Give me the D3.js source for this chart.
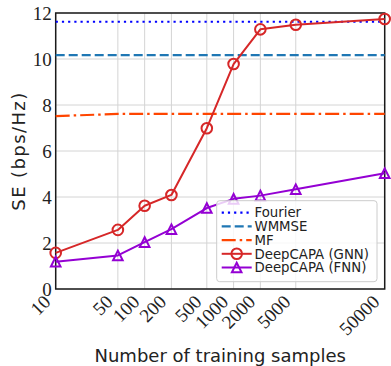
<!DOCTYPE html>
<html>
<head>
<meta charset="utf-8">
<script src="https://cdn.jsdelivr.net/npm/d3@7"></script>
<style>
  html, body { margin: 0; padding: 0; background: #fff; }
  svg { display: block; }
</style>
</head>
<body>
<script>
// Number of training samples (x positions, log scale)
const samples = [10, 50, 100, 200, 500, 1000, 2000, 5000, 50000];
const sampleLabels = ["10", "50", "100", "200", "500", "1000", "2000", "5000", "50000"];

// Spectral efficiency (bps/Hz) per method
const fourierSE = [11.62, 11.62, 11.62, 11.62, 11.62, 11.62, 11.62, 11.62, 11.62];
const wmmseSE   = [10.17, 10.17, 10.17, 10.17, 10.17, 10.17, 10.17, 10.17, 10.17];
const mfSE      = [7.52, 7.61, 7.61, 7.61, 7.61, 7.61, 7.61, 7.61, 7.61];
const gnnSE     = [1.57, 2.57, 3.62, 4.09, 6.99, 9.78, 11.29, 11.49, 11.74];
const fnnSE     = [1.19, 1.46, 2.04, 2.60, 3.52, 3.92, 4.06, 4.34, 5.03];

const yTicks = [0, 2, 4, 6, 8, 10, 12];

const seriesNames = ["Fourier", "WMMSE", "MF", "DeepCAPA (GNN)", "DeepCAPA (FNN)"];

const W = 391, H = 366;
const plot = { left: 55.7, right: 384.7, top: 13, bottom: 289 };

const svg = d3.select("body").append("svg")
  .attr("width", W).attr("height", H)
  .attr("viewBox", `0 0 ${W} ${H}`);

const x = d3.scaleLog().domain([10, 50000]).range([plot.left, plot.right]);
const y = d3.scaleLinear().domain([0, 12]).range([plot.bottom, plot.top]);

// grid
const grid = svg.append("g").attr("stroke", "#d4d4d4").attr("stroke-width", 1);
grid.selectAll("line.v").data(samples).join("line")
  .attr("class", "v")
  .attr("x1", d => x(d)).attr("x2", d => x(d))
  .attr("y1", plot.top).attr("y2", plot.bottom);
grid.selectAll("line.h").data(yTicks).join("line")
  .attr("class", "h")
  .attr("x1", plot.left).attr("x2", plot.right)
  .attr("y1", d => y(d)).attr("y2", d => y(d));

// frame
svg.append("rect")
  .attr("x", plot.left).attr("y", plot.top)
  .attr("width", plot.right - plot.left).attr("height", plot.bottom - plot.top)
  .attr("fill", "none").attr("stroke", "#1a1a1a").attr("stroke-width", 1.5);

// y axis tick labels
const yAxis = d3.axisLeft(y).tickValues(yTicks).tickSize(0).tickPadding(4).tickFormat(d3.format("d"));
const yg = svg.append("g").attr("transform", `translate(${plot.left},0)`).call(yAxis);
yg.select(".domain").remove();
yg.selectAll("text")
  .attr("font-family", "'Liberation Serif', 'DejaVu Serif', serif")
  .attr("font-size", 19).attr("fill", "#222").attr("dy", "0.34em");

// x axis tick labels, rotated
const xAxis = d3.axisBottom(x).tickValues(samples).tickSize(0)
  .tickFormat((d, i) => sampleLabels[i]);
const xg = svg.append("g").attr("transform", `translate(0,${plot.bottom})`).call(xAxis);
xg.select(".domain").remove();
xg.selectAll("text")
  .attr("font-family", "'Liberation Serif', 'DejaVu Serif', serif")
  .attr("font-size", 19).attr("fill", "#222")
  .attr("text-anchor", "end")
  .attr("y", 0).attr("dy", 0)
  .attr("transform", "translate(-4.5,14) rotate(-45)");

// axis titles
svg.append("text")
  .attr("x", (plot.left + plot.right) / 2).attr("y", 362)
  .attr("text-anchor", "middle")
  .attr("font-family", "'DejaVu Sans', sans-serif").attr("font-size", 18)
  .attr("fill", "#222")
  .text("Number of training samples");
svg.append("text")
  .attr("transform", `translate(25,${(plot.top + plot.bottom) / 2}) rotate(-90)`)
  .attr("text-anchor", "middle")
  .attr("font-family", "'DejaVu Sans', sans-serif").attr("font-size", 18)
  .attr("letter-spacing", 1.4)
  .attr("fill", "#222")
  .text("SE (bps/Hz)");

// series styling
const styles = [
  { vals: fourierSE, color: "#0000ff", width: 2.2, dash: "2.2,4", marker: null },
  { vals: wmmseSE,   color: "#1f77b4", width: 2.4, dash: "9,4", marker: null },
  { vals: mfSE,      color: "#ff4500", width: 2.2, dash: "14,4,2.5,4", marker: null },
  { vals: gnnSE,     color: "#d62728", width: 2, dash: null, marker: "circle" },
  { vals: fnnSE,     color: "#9400d3", width: 2, dash: null, marker: "triangle" }
];

const line = d3.line().x(d => x(d[0])).y(d => y(d[1]));
const triPath = s => `M0,${-s}L${s},${s}L${-s},${s}Z`;

function drawMarker(g, kind, color) {
  if (kind === "circle") {
    g.append("circle").attr("r", 5.3)
      .attr("fill", "none").attr("stroke", color).attr("stroke-width", 2);
  } else if (kind === "triangle") {
    g.append("path").attr("d", triPath(4.8))
      .attr("fill", "none").attr("stroke", color).attr("stroke-width", 2)
      .attr("stroke-linejoin", "miter");
  }
}

styles.forEach(s => {
  const pts = samples.map((d, i) => [d, s.vals[i]]);
  svg.append("path")
    .attr("d", line(pts))
    .attr("fill", "none")
    .attr("stroke", s.color)
    .attr("stroke-width", s.width)
    .attr("stroke-dasharray", s.dash)
    .attr("stroke-linejoin", "round");
  if (s.marker) {
    pts.forEach(p => {
      const g = svg.append("g").attr("transform", `translate(${x(p[0])},${y(p[1])})`);
      drawMarker(g, s.marker, s.color);
    });
  }
});

// legend
const leg = { x: 216.7, y: 200.7, w: 160.3, h: 81 };
svg.append("rect")
  .attr("x", leg.x).attr("y", leg.y).attr("width", leg.w).attr("height", leg.h)
  .attr("rx", 3).attr("ry", 3)
  .attr("fill", "#fff").attr("fill-opacity", 0.8)
  .attr("stroke", "#cccccc").attr("stroke-width", 1);

const rowY = [212.7, 226.4, 240.1, 253.8, 267.5];
styles.forEach((s, i) => {
  const g = svg.append("g").attr("transform", `translate(0,${rowY[i]})`);
  g.append("line")
    .attr("x1", 221.7).attr("x2", 251.7).attr("y1", 0).attr("y2", 0)
    .attr("stroke", s.color).attr("stroke-width", s.width)
    .attr("stroke-dasharray", s.dash);
  if (s.marker) {
    const m = g.append("g").attr("transform", "translate(236.7,0)");
    drawMarker(m, s.marker, s.color);
  }
  g.append("text")
    .attr("x", 254.5).attr("y", 0).attr("dy", "0.36em")
    .attr("font-family", "'DejaVu Sans', sans-serif").attr("font-size", 13.3)
    .attr("fill", "#222")
    .text(seriesNames[i]);
});
</script>
</body>
</html>
